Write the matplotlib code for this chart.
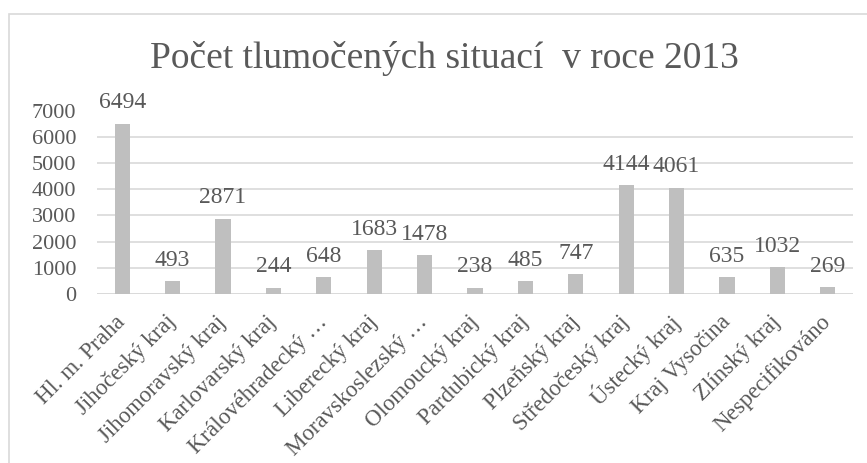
import matplotlib
matplotlib.use("Agg")
import matplotlib.pyplot as plt
from matplotlib.patches import Rectangle

categories = ["Hl. m. Praha", "Jihočeský kraj", "Jihomoravský kraj", "Karlovarský kraj",
              "Královéhradecký …", "Liberecký kraj", "Moravskoslezský …", "Olomoucký kraj",
              "Pardubický kraj", "Plzeňský kraj", "Středočeský kraj", "Ústecký kraj",
              "Kraj Vysočina", "Zlínský kraj", "Nespecifikováno"]
values = [6494, 493, 2871, 244, 648, 1683, 1478, 238, 485, 747, 4144, 4061, 635, 1032, 269]
yticks = [0, 1000, 2000, 3000, 4000, 5000, 6000, 7000]
title = "Počet tlumočených situací  v roce 2013"

plt.rcParams['font.family'] = ['Liberation Serif', 'DejaVu Serif']
text_color = "#595959"

W, H = 867, 463
fig = plt.figure(figsize=(W / 100, H / 100), dpi=100)
fig.patches.append(Rectangle((9 / W, -0.1), 1.2, (H - 14) / H + 0.1, transform=fig.transFigure,
                             fill=False, edgecolor="#D9D9D9", linewidth=1.2))

ax = fig.add_axes([97 / W, (H - 294) / H, (853 - 97) / W, (294 - 110.5) / H])
x = list(range(len(categories)))
ax.bar(x, values, width=0.3, color="#BFBFBF", zorder=3)
ax.set_xlim(-0.5, len(categories) - 0.5)
ax.set_ylim(0, 7000)
ax.set_yticks(yticks)
ax.set_yticklabels([str(v) for v in yticks], fontsize=16, color=text_color)
ax.yaxis.grid(True, color="#D9D9D9", linewidth=1.2, zorder=0)
ax.set_xticks(x)
ax.set_xticklabels(categories, rotation=45, ha="right", va="center", rotation_mode="anchor",
                   fontsize=16.5, color=text_color)
ax.tick_params(axis="both", length=0)
ax.tick_params(axis="y", pad=15)
ax.tick_params(axis="x", pad=18)
for s in ax.spines.values():
    s.set_visible(False)
ax.axhline(0, color="#D9D9D9", linewidth=1.2, zorder=2)

for xi, v in zip(x, values):
    ax.annotate(str(v), (xi, v), xytext=(0, 11), textcoords="offset points",
                ha="center", va="baseline", fontsize=17, color=text_color)

fig.text(444 / W, 1 - 68.3 / H, title, ha="center", va="baseline", fontsize=27, color=text_color)

fig.savefig("out.png", dpi=100)
